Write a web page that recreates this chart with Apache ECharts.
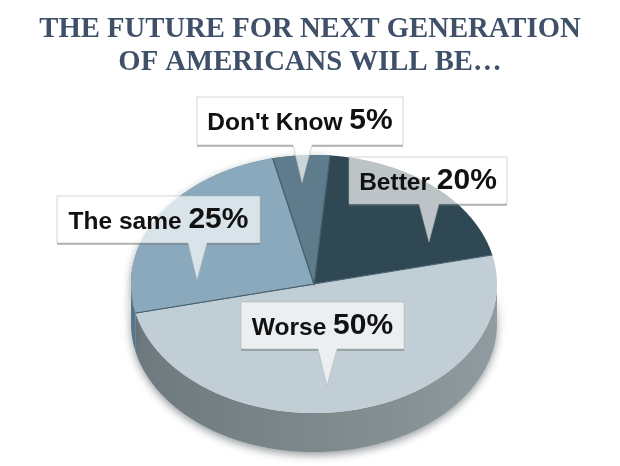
<!DOCTYPE html>
<html><head><meta charset="utf-8">
<style>html,body{margin:0;padding:0;background:#fff}#c{width:620px;height:466px}</style>
<script src="https://cdn.jsdelivr.net/npm/echarts@6/dist/echarts.min.js"></script>
</head><body><div id="c"></div>
<script>
const titleLines = ['THE FUTURE FOR NEXT GENERATION', 'OF AMERICANS WILL BE…'];
const categories = ['Better', 'Worse', 'The same', "Don't Know"];
const values = [20, 50, 25, 5];
const colors = ['#2f4854', '#c2ced5', '#8aa9bd', '#5f7c8d'];
const sideColors = ['#2f4854', null, '#55778a', '#5f7c8d'];
const geom = {cx: 314, cy: 284, rx: 183, ry: 129, depth: 39, start: 85};
const callouts = [
  {i: 3, x: 197, y: 97, w: 206, h: 48, b0: 293, b1: 312, tx: 302, ty: 183},
  {i: 0, x: 349, y: 157, w: 158, h: 47, b0: 419, b1: 439, tx: 429, ty: 242},
  {i: 2, x: 57, y: 196, w: 203, h: 47, b0: 188, b1: 207, tx: 197, ty: 280},
  {i: 1, x: 241, y: 302, w: 163, h: 47, b0: 318, b1: 337, tx: 327, ty: 386}
];
const total = values.reduce((a, b) => a + b, 0);
function range(i) {
  let before = 0;
  for (let k = 0; k < i; k++) before += values[k];
  const a0 = geom.start - before / total * 360;
  return [a0, a0 - values[i] / total * 360];
}
function pt(deg, dy) {
  const r = deg * Math.PI / 180;
  return [geom.cx + geom.rx * Math.cos(r), geom.cy - geom.ry * Math.sin(r) + (dy || 0)];
}
function arc(a0, a1, dy) {
  const pts = [], n = Math.max(2, Math.ceil(Math.abs(a1 - a0) * 2));
  for (let j = 0; j <= n; j++) pts.push(pt(a0 + (a1 - a0) * j / n, dy));
  return pts;
}
const sideGradient = new echarts.graphic.LinearGradient(0, 0, 1, 0, [
  {offset: 0, color: '#6c797e'}, {offset: 0.35, color: '#788487'},
  {offset: 0.7, color: '#848f92'}, {offset: 1, color: '#919ca1'}
]);
function renderSide(params, api) {
  const i = api.value(2);
  const [a0, a1] = range(i);
  const children = [];
  [[0, -180], [-180, -360]].forEach(function (w) {
    const hi = Math.min(a0, w[0]), lo = Math.max(a1, w[1]);
    if (hi > lo) {
      const top = arc(hi, lo, 0), bot = arc(lo, hi, geom.depth);
      children.push({type: 'polygon', shape: {points: top.concat(bot)},
        style: {fill: sideColors[i] || sideGradient,
          shadowBlur: 9, shadowColor: 'rgba(60,70,75,.55)', shadowOffsetY: 3}});
    }
  });
  return {type: 'group', children};
}
function renderTop(params, api) {
  const i = api.value(2);
  const [a0, a1] = range(i);
  const pts = [[geom.cx, geom.cy]].concat(arc(a0, a1, 0));
  return {type: 'group', children: [
    {type: 'polygon', shape: {points: pts}, style: {fill: colors[i]}},
    {type: 'polyline', shape: {points: [pt(a1), [geom.cx, geom.cy], pt(a0)]},
      style: {fill: 'none', stroke: '#47626f', lineWidth: 1.2}}
  ]};
}
const data = categories.map((c, i) => ({name: c, value: [c, values[i], i]}));
const graphics = [];
callouts.forEach(function (c) {
  const pts = [[c.x, c.y], [c.x + c.w, c.y], [c.x + c.w, c.y + c.h], [c.b1, c.y + c.h],
    [c.tx, c.ty], [c.b0, c.y + c.h], [c.x, c.y + c.h]];
  graphics.push({type: 'polygon', z: 20, shape: {points: pts},
    style: {fill: 'rgba(255,255,255,.68)', stroke: 'rgba(170,175,178,.5)', lineWidth: 1}});
  graphics.push({type: 'polyline', z: 20,
    shape: {points: [[c.x, c.y + c.h + 1], [c.b0, c.y + c.h + 1]]},
    style: {stroke: 'rgba(110,115,118,.45)', lineWidth: 2, fill: 'none'}});
  graphics.push({type: 'polyline', z: 20,
    shape: {points: [[c.b1, c.y + c.h + 1], [c.x + c.w, c.y + c.h + 1]]},
    style: {stroke: 'rgba(110,115,118,.45)', lineWidth: 2, fill: 'none'}});
  graphics.push({type: 'text', z: 21, x: c.x + c.w / 2, y: c.y + c.h / 2,
    style: {text: '{a|' + categories[c.i] + ' }{b|' + values[c.i] + '%}',
      align: 'center', verticalAlign: 'middle',
      rich: {
        a: {font: 'bold 24.5px "Liberation Sans", Arial, sans-serif', fill: '#111', verticalAlign: 'bottom'},
        b: {font: 'bold 30px "Liberation Sans", Arial, sans-serif', fill: '#111', verticalAlign: 'bottom'}
      }}});
});
const chart = echarts.init(document.getElementById('c'), null, {renderer: 'canvas'});
chart.setOption({
  animation: false,
  backgroundColor: '#fff',
  title: {text: titleLines.join('\n'), left: 'center', top: 8,
    textStyle: {fontFamily: '"Liberation Serif", serif', fontWeight: 'bold', fontSize: 28.7,
      lineHeight: 33, color: '#3f5068'}},
  series: [
    {type: 'custom', coordinateSystem: 'none', renderItem: renderSide, data, z: 2, silent: true},
    {type: 'custom', coordinateSystem: 'none', renderItem: renderTop, data, z: 3, silent: true}
  ],
  graphic: graphics
});
</script></body></html>
